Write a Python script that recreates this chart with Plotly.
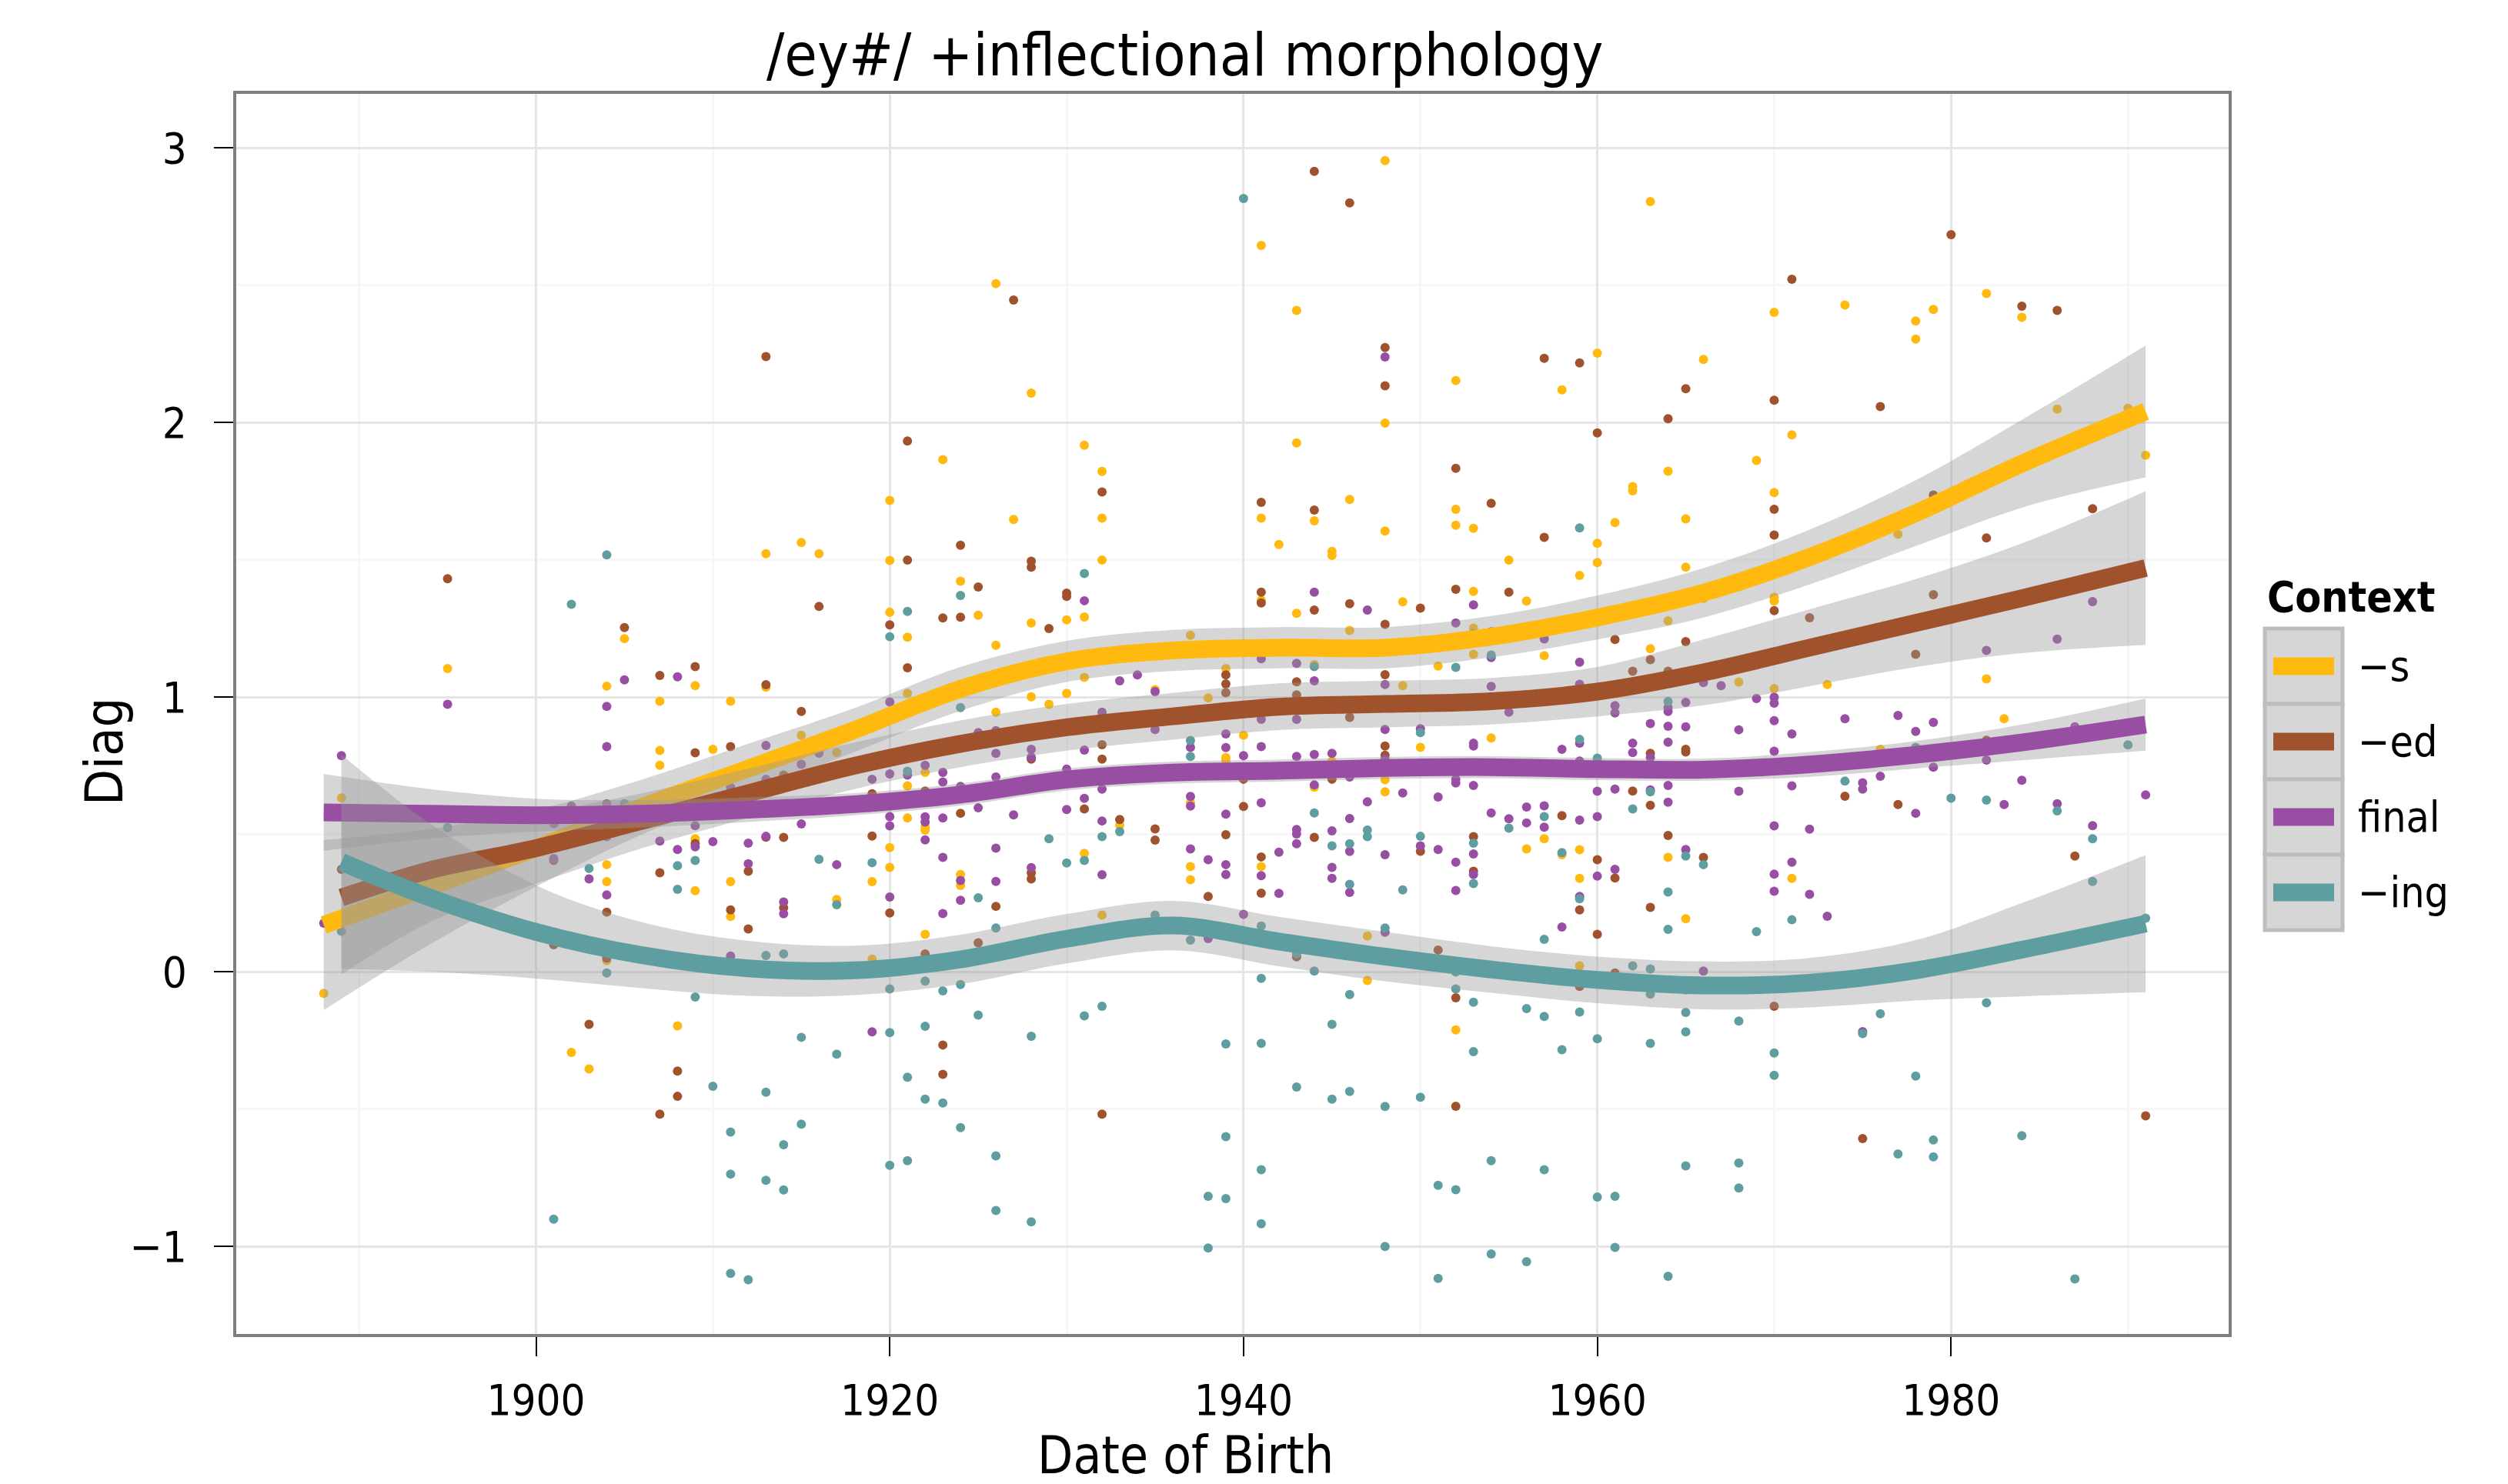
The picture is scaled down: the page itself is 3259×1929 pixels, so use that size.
import plotly.graph_objects as go

# ---------------- data ----------------
context_names = ["−s", "−ed", "final", "−ing"]
context_colors = ["#FFB90F", "#A0522D", "#984EA3", "#5F9EA0"]

# -s
s_year = [1920,1913,1915,1916,1920,1920,1905,1895,1904,1909,1913,1907,1911,
          1907,1907,1910,1915,1917,1917,1889,1909,1920,1904,1904,1909,1911,1919,1920,1917,1911,1904,1919,1888,1908,1902,1903,
          1948,1941,1926,1943,1928,1952,1958,1948,1923,1931,
          1943,1932,1946,1941,1944,1952,1952,1953,1927,1932,
          1948,1942,1945,1945,1932,1955,1924,1941,1953,1956,
          1943,1949,1925,1928,1930,1931,1921,1926,1937,1946,
          1953,1931,1925,1935,1938,1939,1944,1949,1951,1953,
          1957,1921,1928,1929,1930,1926,
          1921,1922,1939,1939,1940,1945,1950,1954,1921,1922,1922,1933,1937,1944,1948,1948,1957,1958,1931,1924,1924,1937,1937,1941,1956,1922,1932,1947,1947,1952,1928,
          1963,1970,1974,1982,1984,1979,1978,1978,1960,1966,1971,1986,1990,1991,1969,1964,1962,1962,1970,1961,1965,1977,1960,1960,1959,1965,1966,1970,1970,1964,1963,1968,1970,1973,1982,
          1983,1976,1959,1959,1964,1971,1965,1959]
s_diag = [1.716,1.522,1.563,1.522,1.498,1.309,1.213,1.104,1.040,1.042,1.036,0.985,0.985,
          0.806,0.752,0.810,0.861,0.798,0.752,0.633,0.484,0.452,0.390,0.328,0.295,0.328,0.328,0.380,0.263,0.201,0.040,0.046,-0.079,-0.197,-0.294,-0.354,
          2.954,2.645,2.506,2.408,2.107,2.153,2.119,1.998,1.865,1.917,
          1.926,1.822,1.720,1.652,1.642,1.684,1.626,1.615,1.647,1.652,
          1.605,1.556,1.531,1.516,1.499,1.499,1.422,1.353,1.385,1.350,
          1.305,1.347,1.298,1.270,1.281,1.292,1.218,1.189,1.225,1.243,
          1.251,1.072,1.063,1.027,0.997,1.104,1.118,1.042,1.113,1.156,
          1.151,1.014,1.001,0.974,1.014,0.945,
          0.677,0.726,0.780,0.768,0.861,0.767,0.817,0.851,0.560,0.528,0.516,0.533,0.615,0.672,0.699,0.655,0.484,0.426,0.431,0.354,0.314,0.383,0.335,0.383,0.447,0.136,0.206,0.130,-0.032,-0.212,0.882,
          2.805,2.401,2.428,2.470,2.383,2.412,2.370,2.304,2.253,2.230,1.955,2.049,2.052,1.881,1.862,1.823,1.767,1.751,1.745,1.636,1.649,1.593,1.560,1.490,1.443,1.473,1.360,1.364,1.350,1.278,1.176,1.055,1.031,1.046,1.066,
          0.921,0.810,0.444,0.340,0.416,0.340,0.193,0.021]

# -ed
ed_year = [1913,1916,1905,1920,1895,1909,1907,1913,1915,
           1909,1911,1914,1919,1913,1914,1909,1901,1889,1907,1912,1919,1920,1914,1911,1912,1904,1901,1904,1903,1908,1908,1907,
           1944,1946,1927,1948,1957,1948,1921,1952,1932,1941,
           1944,1954,1957,1924,1921,1928,1928,1925,1930,1930,
           1941,1941,1952,1955,1944,1946,1950,1923,1924,1929,
           1948,1954,1921,1939,1939,1939,1943,1943,1948,
           1922,1928,1932,1932,1946,1948,1948,1924,1931,1933,
           1935,1935,1939,1940,1940,1945,1958,1928,1928,1941,
           1941,1944,1950,1953,1953,1926,1925,1922,1938,1943,
           1951,1952,1923,1923,1932,1952,
           1980,1971,1984,1986,1959,1965,1970,1976,1964,1960,
           1970,1979,1988,1970,1982,1970,1972,1979,1961,1965,
           1978,1963,1962,1964,
           1963,1965,1965,1982,1962,1963,1974,1977,1964,1960,
           1961,1966,1987,1959,1963,1960,1959,1961,1970,1991,
           1975]
ed_diag = [2.240,1.330,1.253,1.263,1.431,1.111,1.079,1.045,0.948,
           0.797,0.820,0.716,0.648,0.490,0.489,0.467,0.405,0.373,0.360,0.366,0.494,0.214,0.233,0.225,0.156,0.217,0.098,0.049,-0.192,-0.362,-0.454,-0.519,
           2.915,2.800,2.446,2.273,2.234,2.134,1.933,1.833,1.747,1.709,
           1.681,1.706,1.582,1.553,1.499,1.495,1.473,1.401,1.379,1.367,
           1.382,1.343,1.393,1.382,1.317,1.340,1.324,1.288,1.291,1.250,
           1.265,1.238,1.107,1.081,1.048,1.016,1.056,1.008,1.082,
           0.658,0.774,0.827,0.774,0.926,0.822,0.788,0.577,0.593,0.554,
           0.520,0.479,0.499,0.602,0.701,0.701,0.568,0.360,0.338,0.418,
           0.286,0.489,0.439,0.492,0.366,0.238,0.105,0.065,0.274,0.054,
           0.079,-0.095,-0.267,-0.374,-0.519,-0.490,
           2.684,2.522,2.424,2.408,2.217,2.123,2.081,2.058,2.014,1.962,
           1.684,1.736,1.686,1.590,1.580,1.315,1.289,1.373,1.210,1.202,
           1.156,1.136,1.094,1.094,
           0.795,0.810,0.800,0.843,0.658,0.606,0.639,0.609,0.496,0.408,
           0.341,0.416,0.421,0.225,0.234,0.136,-0.054,-0.005,-0.126,-0.525,
           -0.608]

# final
fin_year = [1905,1908,1895,1904,1920,
            1889,1904,1913,1916,1915,1913,1911,1919,1920,1902,
            1904,1901,1904,1909,1907,1908,1909,1910,1912,1913,
            1915,1920,1920,1917,1901,1903,1904,1912,1920,1914,
            1914,1888,1911,1919,
            1948,1931,1944,1947,1953,1952,1957,1928,1931,1927,
            1924,1933,1934,1935,1941,1943,1944,1948,1954,1954,
            1932,1955,
            1921,1922,1923,1923,1924,1925,1926,1926,1928,1928,
            1931,1935,1937,1939,1939,1940,1941,1941,1943,1943,
            1944,1945,1948,1948,1950,1953,1953,1958,1922,1922,
            1922,1923,1925,1926,1927,1930,1930,1931,1932,1932,
            1937,1937,1939,1941,1944,1946,1947,1949,1951,1952,
            1952,1953,1954,1955,1956,1956,1957,1957,1923,1924,
            1926,1926,1928,1932,1937,1938,1939,1939,1941,1942,
            1942,1943,1943,1943,1945,1945,1945,1946,1946,1946,
            1948,1950,1951,1952,1952,1953,1953,1923,1924,1938,
            1940,1948,1958,
            1988,1986,1982,1959,1959,1966,1967,1969,1970,1970,
            1964,1964,1961,1961,1965,
            1959,1963,1964,1965,1968,1970,1971,1974,1977,1978,
            1979,1962,1962,1963,1964,1959,1970,1982,1987,1960,
            1961,1963,1964,1964,1968,1971,1975,1975,1976,1978,
            1979,1983,1984,1986,1988,1991,1959,1960,1970,1972,
            1961,1960,1965,1970,1970,1971,1972,1973,1959,1966,
            1975]
fin_diag = [1.063,1.074,0.974,0.966,0.982,
            0.787,0.820,0.824,0.796,0.755,0.701,0.672,0.701,0.720,0.603,
            0.612,0.539,0.492,0.532,0.476,0.445,0.455,0.474,0.468,0.493,
            0.538,0.565,0.531,0.390,0.412,0.338,0.280,0.393,0.272,0.254,
            0.211,0.177,0.057,-0.219,
            2.239,1.351,1.382,1.317,1.336,1.270,1.212,1.117,1.140,1.086,
            1.036,1.059,1.081,1.020,1.140,1.123,1.059,1.046,1.144,1.039,
            0.945,0.945,
            0.716,0.752,0.726,0.691,0.675,0.871,0.878,0.795,0.810,0.781,
            0.807,0.882,0.817,0.866,0.816,0.787,0.919,0.820,0.919,0.784,
            0.791,0.795,0.882,0.774,0.885,0.832,0.822,0.810,0.564,0.545,
            0.480,0.560,0.597,0.709,0.571,0.738,0.591,0.631,0.665,0.549,
            0.638,0.603,0.574,0.615,0.680,0.709,0.619,0.651,0.636,0.701,
            0.687,0.678,0.578,0.557,0.600,0.542,0.604,0.526,0.416,0.332,
            0.450,0.329,0.379,0.353,0.447,0.408,0.390,0.354,0.350,0.285,
            0.435,0.518,0.502,0.466,0.513,0.380,0.340,0.558,0.438,0.289,
            0.426,0.458,0.445,0.399,0.296,0.429,0.354,0.212,0.260,0.121,
            0.209,0.144,0.163,
            1.348,1.211,1.170,1.127,1.047,1.053,1.042,0.995,1.000,0.978,
            0.962,0.948,0.969,0.942,0.981,
            0.832,0.904,0.894,0.892,0.881,0.914,0.866,0.921,0.933,0.875,
            0.908,0.832,0.798,0.780,0.836,0.767,0.803,0.771,0.892,0.657,
            0.665,0.662,0.678,0.617,0.657,0.677,0.688,0.665,0.712,0.577,
            0.745,0.609,0.697,0.612,0.532,0.644,0.552,0.565,0.531,0.519,
            0.373,0.348,0.445,0.355,0.293,0.399,0.282,0.202,0.274,0.002,
            -0.218]

# -ing
ing_year = [1904,1902,1920,
            1905,1895,1916,1919,1903,1908,1909,1908,1917,1889,
            1904,1913,1914,1909,1920,1915,1917,1920,1910,1913,
            1915,1911,1914,1911,1913,1914,1920,1901,1911,1912,
            1940,1931,1924,1921,1953,1944,1952,1954,1924,
            1921,1937,1937,1950,1933,1955,1957,1958,1929,1930,
            1931,1932,1944,1945,1946,1946,1947,1947,1949,1950,
            1953,1953,1925,1926,1935,1937,1941,1943,1944,1948,
            1952,1952,1953,1946,1953,1956,1957,1957,1958,1922,
            1923,1924,1925,1922,1928,1931,1932,1921,1922,1923,
            1924,1921,1926,1926,1928,1939,1941,1939,1938,1939,
            1938,1941,1941,1941,1943,1945,1945,1946,1948,1950,
            1948,1951,1952,1951,1954,1957,1954,1956,
            1959,1964,
            1959,1960,1978,1990,1963,1962,1974,1980,1982,1986,
            1988,1965,1966,1988,1959,1964,1964,1969,1971,1991,
            1986,1962,1963,1963,1965,1959,1965,1968,1965,1960,
            1963,1975,1976,1982,1970,1970,1978,1977,1979,1979,
            1984,1965,1968,1968,1960,1961,1961,1964,1987]
ing_diag = [1.518,1.338,1.220,
            0.612,0.525,0.409,0.397,0.376,0.386,0.405,0.300,0.244,0.147,
            -0.005,0.059,0.065,-0.092,-0.063,-0.239,-0.300,-0.222,-0.417,-0.439,
            -0.555,-0.584,-0.630,-0.737,-0.760,-0.795,-0.705,-0.901,-1.099,-1.122,
            2.816,1.450,1.370,1.312,1.231,1.111,1.108,1.153,0.962,
            0.730,0.842,0.784,0.871,0.510,0.523,0.565,0.434,0.484,0.396,
            0.405,0.492,0.578,0.458,0.466,0.318,0.516,0.492,0.298,0.493,
            0.468,0.321,0.269,0.159,0.206,0.115,0.166,0.065,0.002,0.159,
            -0.001,-0.063,-0.111,-0.083,-0.291,-0.134,-0.163,0.118,-0.284,-0.034,
            -0.070,-0.047,-0.158,-0.199,-0.235,-0.161,-0.126,-0.384,-0.464,-0.478,
            -0.568,-0.688,-0.671,-0.870,-0.911,-0.263,-0.261,-0.601,-0.818,-0.826,
            -1.006,-0.721,-0.918,-0.024,-0.420,-0.192,-0.464,-0.436,-0.491,-0.457,
            -1.001,-0.778,-0.794,-1.117,-0.688,-0.721,-1.028,-1.056,
            1.616,0.984,
            0.846,0.778,0.817,0.826,0.655,0.593,0.694,0.632,0.625,0.586,
            0.484,0.421,0.390,0.329,0.266,0.290,0.154,0.146,0.189,0.195,
            0.118,0.021,0.010,-0.082,-0.066,-0.147,-0.148,-0.180,-0.219,-0.244,
            -0.261,-0.225,-0.153,-0.113,-0.296,-0.377,-0.380,-0.664,-0.613,-0.674,
            -0.597,-0.707,-0.697,-0.788,-0.821,-0.818,-1.004,-1.109,-1.119]

# smoothed fits (loess) read at sample years, with confidence half-widths
fit_year_a = [1888,1894,1900,1906,1912,1918,1924,1930,1936,1942,1948,1954,1960,1966,1972,1978,1984,1991]
fit_year_b = [1889,1894,1900,1906,1912,1918,1924,1930,1936,1942,1948,1954,1960,1966,1972,1978,1984,1991]
s_fit  = [0.17,0.31,0.45,0.60,0.74,0.88,1.03,1.13,1.17,1.18,1.18,1.22,1.29,1.38,1.51,1.67,1.85,2.04]
s_se   = [0.31,0.21,0.14,0.10,0.09,0.08,0.08,0.075,0.075,0.075,0.075,0.075,0.08,0.09,0.10,0.12,0.16,0.24]
ed_fit = [0.27,0.37,0.45,0.55,0.65,0.75,0.83,0.89,0.93,0.965,0.975,0.985,1.02,1.09,1.18,1.27,1.36,1.47]
ed_se  = [0.28,0.19,0.13,0.10,0.09,0.085,0.085,0.085,0.085,0.085,0.085,0.085,0.09,0.12,0.14,0.16,0.20,0.28]
fin_fit = [0.58,0.575,0.57,0.575,0.59,0.61,0.645,0.70,0.725,0.732,0.742,0.745,0.738,0.736,0.755,0.79,0.835,0.90]
fin_se  = [0.14,0.09,0.06,0.05,0.045,0.04,0.04,0.04,0.04,0.04,0.04,0.04,0.04,0.04,0.045,0.05,0.065,0.095]
ing_fit = [0.40,0.27,0.145,0.06,0.012,0.005,0.045,0.12,0.168,0.11,0.055,0.008,-0.03,-0.05,-0.04,0.005,0.08,0.175]
ing_se  = [0.39,0.27,0.17,0.12,0.10,0.09,0.09,0.09,0.09,0.09,0.09,0.085,0.085,0.087,0.09,0.11,0.17,0.25]

x_ticks = [1900, 1920, 1940, 1960, 1980]
y_ticks = [-1, 0, 1, 2, 3]

# ---------------- geometry ----------------
W, H = 3259, 1929
OFF = 8  # page body margin offset
PL, PR, PT, PB = 305, 2898, 120, 1736   # panel in screen pixels
FONT = "DejaVu Sans Condensed, Liberation Sans, DejaVu Sans, sans-serif"


def px(x):
    return (x - PL) / (PR - PL)


def py(y):
    return (PB - y) / (PB - PT)


fig = go.Figure()

points = [(s_year, s_diag), (ed_year, ed_diag), (fin_year, fin_diag), (ing_year, ing_diag)]
for (xs, ys), c in zip(points, context_colors):
    fig.add_trace(go.Scatter(x=xs, y=ys, mode="markers",
                             marker=dict(size=12, color=c, line=dict(width=0)),
                             showlegend=False, hoverinfo="skip"))

fits = [(fit_year_a, s_fit, s_se), (fit_year_b, ed_fit, ed_se),
        (fit_year_a, fin_fit, fin_se), (fit_year_b, ing_fit, ing_se)]
for (fx, fy, se), c in zip(fits, context_colors):
    lo = [a - b for a, b in zip(fy, se)]
    hi = [a + b for a, b in zip(fy, se)]
    fig.add_trace(go.Scatter(x=fx, y=lo, mode="lines", line=dict(width=0, shape="spline"),
                             showlegend=False, hoverinfo="skip"))
    fig.add_trace(go.Scatter(x=fx, y=hi, mode="lines", line=dict(width=0, shape="spline"),
                             fill="tonexty", fillcolor="rgba(153,153,153,0.4)",
                             showlegend=False, hoverinfo="skip"))
    fig.add_trace(go.Scatter(x=fx, y=fy, mode="lines", line=dict(width=23, color=c, shape="spline"),
                             showlegend=False, hoverinfo="skip"))

axis_common = dict(
    showgrid=True, gridcolor="#E5E5E5", gridwidth=3,
    ticks="outside", ticklen=26, tickwidth=2, tickcolor="black",
    showline=False, zeroline=False,
    tickfont=dict(family=FONT, size=56, color="black"),
)

fig.update_layout(
    width=W, height=H,
    margin=dict(l=PL - OFF, r=W - PR + OFF, t=PT - OFF, b=H - PB + OFF, autoexpand=False),
    paper_bgcolor="white", plot_bgcolor="white",
    showlegend=False,
    xaxis=dict(range=[1882.967, 1995.78], tickmode="array", tickvals=x_ticks,
               ticktext=[str(v) for v in x_ticks], ticklabelstandoff=9,
               minor=dict(tickmode="array", tickvals=[1890, 1910, 1930, 1950, 1970, 1990],
                          showgrid=True, gridcolor="#F7F7F7", gridwidth=3, ticks=""),
               **axis_common),
    yaxis=dict(range=[-1.325, 3.2026], tickmode="array", tickvals=y_ticks,
               ticktext=[str(v).replace("-", "−") for v in y_ticks], ticklabelstandoff=24,
               minor=dict(tickmode="array", tickvals=[-0.5, 0.5, 1.5, 2.5],
                          showgrid=True, gridcolor="#F7F7F7", gridwidth=3, ticks=""),
               **axis_common),
)

ann = []
ann.append(dict(text="/ey#/ +inflectional morphology", x=px(1540), y=py(72), xref="paper", yref="paper",
                xanchor="center", yanchor="middle", showarrow=False,
                font=dict(family=FONT, size=77, color="black")))
ann.append(dict(text="Date of Birth", x=px(1540), y=py(1892), xref="paper", yref="paper",
                xanchor="center", yanchor="middle", showarrow=False,
                font=dict(family=FONT, size=67, color="black")))
ann.append(dict(text="Diag", x=px(135), y=py(977), xref="paper", yref="paper",
                xanchor="center", yanchor="middle", showarrow=False, textangle=-90,
                font=dict(family=FONT, size=68, color="black")))
ann.append(dict(text="<b>Context</b>", x=px(2944), y=py(776), xref="paper", yref="paper",
                xanchor="left", yanchor="middle", showarrow=False,
                font=dict(family=FONT, size=55, color="black")))

shapes = []
# panel border
shapes.append(dict(type="rect", xref="paper", yref="paper", x0=0, x1=1, y0=0, y1=1,
                   line=dict(color="#7F7F7F", width=4), fillcolor="rgba(0,0,0,0)", layer="above"))

key_top, key_h = 817, 98
for i, (name, c) in enumerate(zip(context_names, context_colors)):
    y0 = key_top + i * key_h
    y1 = y0 + key_h
    shapes.append(dict(type="rect", xref="paper", yref="paper",
                       x0=px(2943), x1=px(3044), y0=py(y1), y1=py(y0),
                       fillcolor="#D6D6D6", line=dict(color="#BDBDBD", width=5), layer="above"))
    cy = (y0 + y1) / 2
    shapes.append(dict(type="rect", xref="paper", yref="paper",
                       x0=px(2954), x1=px(3033), y0=py(cy + 11.5), y1=py(cy - 11.5),
                       fillcolor=c, line=dict(width=0), layer="above"))
    ann.append(dict(text=name, x=px(3062), y=py(cy), xref="paper", yref="paper",
                    xanchor="left", yanchor="middle", showarrow=False,
                    font=dict(family=FONT, size=55, color="black")))

fig.update_layout(annotations=ann, shapes=shapes)
fig.write_html("out.html")
